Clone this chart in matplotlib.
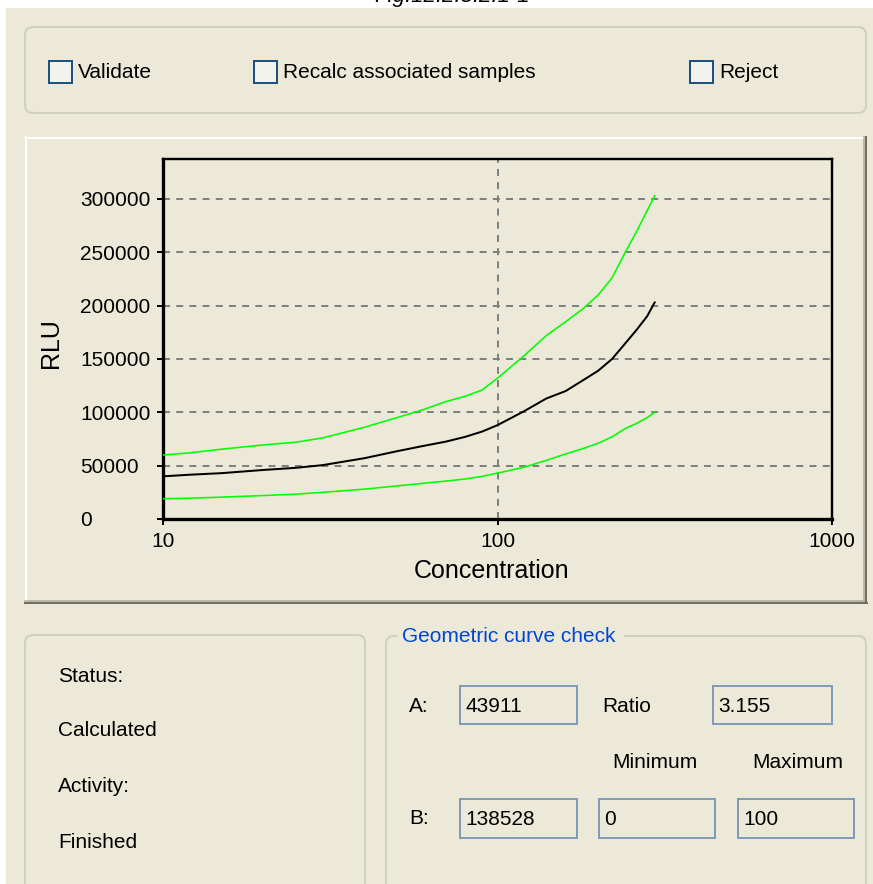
import matplotlib
matplotlib.use('Agg')
import matplotlib.pyplot as plt
from matplotlib.patches import Rectangle, FancyBboxPatch

plt.rcParams['font.family'] = ['Liberation Sans', 'DejaVu Sans']
plt.rcParams['lines.scale_dashes'] = False

# ---------------- data ----------------
concentration = [10, 12, 15, 20, 25, 30, 40, 50, 60, 70, 80, 90, 100,
                 120, 140, 160, 180, 200, 220, 240, 260, 280, 295]
rlu_fit = [40000, 41500, 43000, 46000, 48000, 50500, 57000, 63500, 68500,
           72500, 77000, 82000, 88000, 101000, 113000, 120000, 130000,
           139000, 150000, 164000, 177000, 190000, 203000]
rlu_upper = [60000, 62000, 65500, 69500, 72000, 76000, 86000, 95000, 102500,
             110000, 115000, 121000, 132000, 153000, 172000, 185000, 197000,
             210000, 226000, 249000, 269000, 289000, 303000]
rlu_lower = [19000, 19500, 20500, 22000, 23300, 25000, 28000, 31000, 33500,
             35500, 37500, 40000, 43000, 48500, 55000, 61000, 66000, 71000,
             77000, 84500, 89500, 95000, 100000]
y_ticks = [0, 50000, 100000, 150000, 200000, 250000, 300000]
y_tick_labels = ['0', '50000', '100000', '150000', '200000', '250000', '300000']
x_ticks = [10, 100, 1000]
x_tick_labels = ['10', '100', '1000']

checkbox_labels = ['Validate', 'Recalc associated samples', 'Reject']
status_labels = ['Status:', 'Calculated', 'Activity:', 'Finished']
field_values = ['43911', '3.155', '138528', '0', '100']

# ---------------- figure ----------------
W, H = 873, 884
BG = '#ECE9D8'
fig = plt.figure(figsize=(W / 100, H / 100), dpi=100)
fig.patch.set_facecolor('white')

ui = fig.add_axes([0, 0, 1, 1])
ui.set_xlim(0, W)
ui.set_ylim(H, 0)
ui.axis('off')

UI_FS = 15
PX = 0.72  # points per pixel

# caption (mostly cut off at the top, as in the reference)
ui.text(452, 2, 'Fig.12.2.8.2.1-1', style='italic', fontsize=16,
        ha='center', va='baseline', zorder=0.5)
ui.add_patch(Rectangle((6, 8), W - 6, H - 8, facecolor=BG, edgecolor='none', zorder=1))

# top group box
ui.add_patch(FancyBboxPatch((25, 27), 841, 86, boxstyle='round,pad=0,rounding_size=8',
                            fc='none', ec='#D0D0BF', lw=2 * PX, zorder=2))
cb_x = [49, 254, 690]
for x, lbl in zip(cb_x, checkbox_labels):
    ui.add_patch(Rectangle((x, 61), 23, 22, fc='#F3F3EE', ec='#1C5180', lw=2 * PX, zorder=3))
    ui.text(x + 29, 72, lbl, fontsize=UI_FS, ha='left', va='center', zorder=4)

# chart panel (raised)
ui.add_patch(Rectangle((25, 137), 841, 465, fc=BG, ec='none', zorder=2))
ui.plot([25, 864], [138, 138], color='white', lw=2 * PX, zorder=3)
ui.plot([26, 26], [137, 601], color='white', lw=2 * PX, zorder=3)
ui.plot([25, 865], [601, 601], color='#ACA899', lw=1.5 * PX, zorder=3)
ui.plot([25, 867], [603, 603], color='#716F64', lw=2 * PX, zorder=3)
ui.plot([864, 864], [137, 601], color='#ACA899', lw=1.5 * PX, zorder=3)
ui.plot([866, 866], [137, 603], color='#716F64', lw=2 * PX, zorder=3)

# bottom-left group box
ui.add_patch(FancyBboxPatch((25, 635), 340, 300, boxstyle='round,pad=0,rounding_size=8',
                            fc='none', ec='#D0D0BF', lw=2 * PX, zorder=2))
for y, lbl in zip([677, 731, 787, 843], status_labels):
    ui.text(58, y, lbl, fontsize=UI_FS, ha='left', va='center', zorder=4)

# bottom-right group box
ui.add_patch(FancyBboxPatch((386, 636), 480, 300, boxstyle='round,pad=0,rounding_size=8',
                            fc='none', ec='#D0D0BF', lw=2 * PX, zorder=2))
ui.add_patch(Rectangle((398, 626), 226, 20, fc=BG, ec='none', zorder=3))
ui.text(402, 637, 'Geometric curve check', fontsize=UI_FS, color='#0046D5',
        ha='left', va='center', zorder=4)

for x, y, lbl in [(409, 706, 'A:'), (602, 706, 'Ratio'), (612, 762, 'Minimum'),
                  (752, 762, 'Maximum'), (409, 819, 'B:')]:
    ui.text(x, y, lbl, fontsize=UI_FS, ha='left', va='center', zorder=4)

field_boxes = [(460, 686, 117, 38), (713, 686, 119, 38), (460, 799, 117, 39),
               (599, 799, 116, 39), (738, 799, 116, 39)]
for (x, y, w, h), val in zip(field_boxes, field_values):
    ui.add_patch(Rectangle((x, y), w, h, fc=BG, ec='#7F9DB9', lw=2 * PX, zorder=3))
    ui.text(x + 5, y + h / 2 + 1, val, fontsize=UI_FS, ha='left', va='center', zorder=4)

# ---------------- chart ----------------
ax = fig.add_axes([163 / W, 1 - 519 / H, 669 / W, 360 / H])
ax.set_facecolor(BG)
ax.set_xscale('log')
ax.set_xlim(10, 1000)
ax.set_ylim(0, 337500)

ax.plot(concentration, rlu_upper, color='#00FF00', lw=1.6 * PX, zorder=3)
ax.plot(concentration, rlu_lower, color='#00FF00', lw=1.6 * PX, zorder=3)
ax.plot(concentration, rlu_fit, color='black', lw=2 * PX, zorder=3)

ax.set_xticks(x_ticks)
ax.set_xticklabels(x_tick_labels)
ax.xaxis.set_minor_locator(matplotlib.ticker.NullLocator())
ax.set_yticks(y_ticks)
ax.set_yticklabels(y_tick_labels)

ax.grid(True, which='major', color='#808080', lw=2 * PX, linestyle=(0, (5, 4.5)))
ax.set_axisbelow(True)

tick_len = 6 * PX
ax.tick_params(axis='both', direction='out', length=tick_len, width=2 * PX,
               labelsize=15, colors='black')
ax.tick_params(axis='x', pad=5)
ax.tick_params(axis='y', pad=(163 - 80) * PX - tick_len)
for lbl in ax.get_yticklabels():
    lbl.set_horizontalalignment('left')

for side in ['left', 'bottom']:
    ax.spines[side].set_linewidth(3.3 * PX)
for side in ['top', 'right']:
    ax.spines[side].set_linewidth(2.4 * PX)

ax.set_xlabel('Concentration', fontsize=18)
ax.set_ylabel('RLU', fontsize=18)
ax.xaxis.label.set_va('center')
ax.yaxis.label.set_va('center')
ax.xaxis.set_label_coords((492 - 163) / 669, (519 - 571) / 360)
ax.yaxis.set_label_coords((51 - 163) / 669, (519 - 343) / 360)

fig.savefig('out.png', dpi=100, facecolor=fig.get_facecolor())
